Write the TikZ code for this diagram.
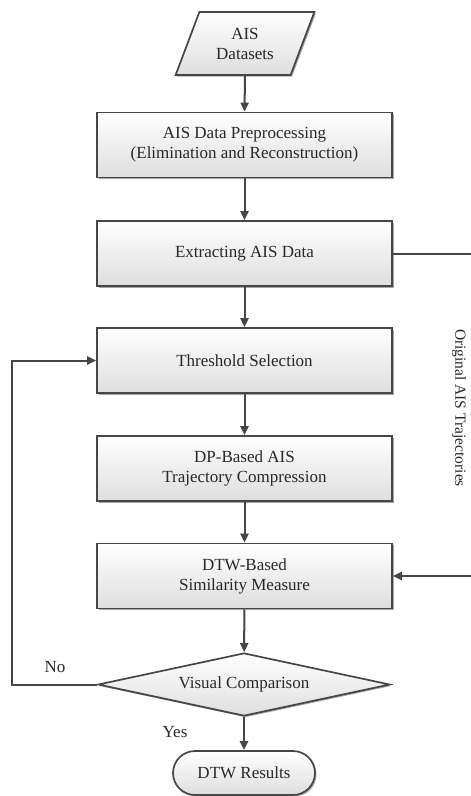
\documentclass[tikz,border=0pt]{standalone}
\usepackage{fontspec}
\setmainfont{Liberation Serif}
\usetikzlibrary{arrows.meta,shapes.geometric,shadows}
\definecolor{linec}{RGB}{70,70,70}
\definecolor{textc}{RGB}{40,40,40}
\definecolor{boxbot}{RGB}{222,222,222}
\begin{document}
\begin{tikzpicture}[x=1pt,y=-1pt,
  line/.style={draw=linec, line width=2pt},
  arr/.style={line, -{Triangle[length=9pt,width=8pt]}},
  shaded/.style={draw=linec, line width=1.7pt, top color=white, bottom color=boxbot,
    drop shadow={shadow xshift=1.5pt, shadow yshift=-1.5pt, opacity=0.35, fill=black},
    inner sep=0pt, align=center, text=textc, font=\fontsize{17}{20}\selectfont},
  procbox/.style={shaded, minimum width=295pt, minimum height=65pt},
  iobox/.style={shaded, trapezium, trapezium left angle=64.5, trapezium right angle=115.5,
    trapezium stretches=true, minimum width=139pt, minimum height=63pt},
  decbox/.style={shaded, diamond, shape aspect=4.6, minimum width=292pt, minimum height=63pt},
  termbox/.style={shaded, rounded corners=22pt, minimum width=142pt, minimum height=44pt},
  lbl/.style={text=textc, font=\fontsize{17}{20}\selectfont, inner sep=0pt}
]
\useasboundingbox (0,0) rectangle (471,796);

\node[iobox] (ais) at (245,43.5) {AIS\\Datasets};
\node[procbox] (pre) at (244.5,145) {AIS Data Preprocessing\\(Elimination and Reconstruction)};
\node[procbox] (ext) at (244.5,253.5) {Extracting AIS Data};
\node[procbox] (thr) at (244.5,360.5) {Threshold Selection};
\node[procbox] (dp) at (244.5,468.5) {DP-Based AIS\\Trajectory Compression};
\node[procbox] (dtw) at (244.5,576) {DTW-Based\\Similarity Measure};
\node[decbox] (vis) at (244,684.5) {Visual Comparison};
\node[termbox] (res) at (244,773) {DTW Results};

\node[lbl, rotate=-90] (orig) at (459,408) {\fontsize{15.5}{18}\selectfont Original AIS Trajectories};
\node[lbl] (no) at (55,667) {No};
\node[lbl] (yes) at (175,732) {Yes};

\coordinate (c1) at (12,684.5);
\coordinate (c2) at (12,360.5);
\coordinate (r1) at (474,253.5);
\coordinate (r2) at (474,576);

\draw[arr] (ais.south) -- (pre.north);
\draw[arr] (pre) -- (ext);
\draw[arr] (ext) -- (thr);
\draw[arr] (thr) -- (dp);
\draw[arr] (dp) -- (dtw);
\draw[arr] (dtw) -- (vis);
\draw[arr] (vis) -- (res);
\draw[arr] (vis.west) -- (c1) -- (c2) -- (thr.west);
\draw[arr] (ext.east) -- (r1) -- (r2) -- (dtw.east);
\end{tikzpicture}
\end{document}
